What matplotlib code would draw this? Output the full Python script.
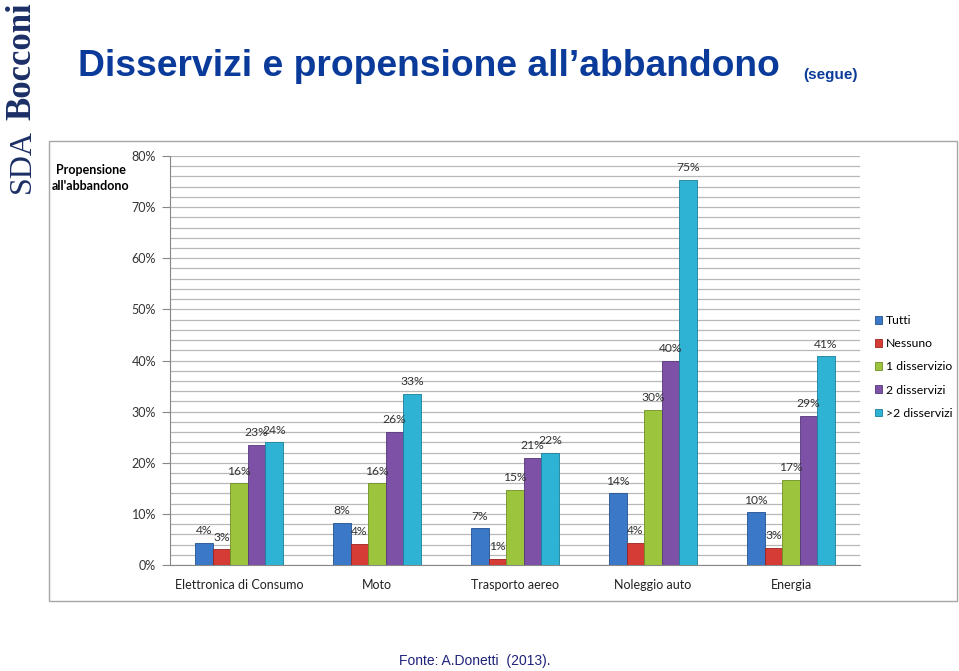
import matplotlib.pyplot as plt
import matplotlib.patches as mpatches
from matplotlib.ticker import MultipleLocator, FuncFormatter
import numpy as np

# ── data ────────────────────────────────────────────────────
categories = ['Elettronica di Consumo', 'Moto', 'Trasporto aereo',
              'Noleggio auto', 'Energia']
series = ['Tutti', 'Nessuno', '1 disservizio', '2 disservizi', '>2 disservizi']
tutti      = [4.3, 8.3, 7.2, 14.0, 10.3]
nessuno    = [3.1, 4.2, 1.2, 4.4, 3.3]
uno        = [16.0, 16.0, 14.7, 30.3, 16.7]
due        = [23.5, 26.0, 21.0, 40.0, 29.2]
oltre_due  = [24.0, 33.5, 22.0, 75.3, 40.8]
labels = [
    ['4%', '8%', '7%', '14%', '10%'],
    ['3%', '4%', '1%', '4%', '3%'],
    ['16%', '16%', '15%', '30%', '17%'],
    ['23%', '26%', '21%', '40%', '29%'],
    ['24%', '33%', '22%', '75%', '41%'],
]

COLORS = ['#3b78c8', '#d63c36', '#9cc43c', '#7d52a6', '#2fb3d4']
EDGES  = ['#22508f', '#9c2320', '#6e8f22', '#55357a', '#1a7f9a']
NAVY   = '#0a3a9a'
CHART_FONT = ['Lato', 'DejaVu Sans']

W, H = 959, 671
fig = plt.figure(figsize=(W/100, H/100), dpi=100, facecolor='white')

# ── chart frame ─────────────────────────────────────────────
fig.add_artist(mpatches.Rectangle((49/W, 1-601/H), (957-49)/W, (601-141)/H,
                                  transform=fig.transFigure, fill=False,
                                  edgecolor='#a6a6a6', linewidth=1.0))

ax = fig.add_axes([170/W, 1-565/H, (860-170)/W, (565-156)/H])
vals = [tutti, nessuno, uno, due, oltre_due]
x = np.arange(len(categories))
bw = 0.127
for i, (v, c, e) in enumerate(zip(vals, COLORS, EDGES)):
    pos = x + (i-2)*bw
    ax.bar(pos, v, width=bw, color=c, edgecolor=e, linewidth=0.6,
           label=series[i], zorder=3)
    for xp, yv, lab in zip(pos, v, labels[i]):
        ax.text(xp, yv + 1.3, lab, ha='center', va='bottom', fontsize=8.7,
                color='#333333', family=CHART_FONT, zorder=4)

ax.set_xlim(-0.5, len(categories)-0.5)
ax.set_ylim(0, 80)
ax.yaxis.set_major_locator(MultipleLocator(10))
ax.yaxis.set_minor_locator(MultipleLocator(2))
ax.yaxis.set_major_formatter(FuncFormatter(lambda v, p: f'{int(v)}%'))
ax.grid(axis='y', which='both', color='#b8b8b8', linewidth=0.9, zorder=0)
ax.set_xticks(x)
ax.set_xticklabels(categories, family=CHART_FONT, fontsize=9, color='#222222')
ax.tick_params(axis='x', length=0, pad=10)
ax.tick_params(axis='y', which='major', length=6, color='#888888',
               labelsize=9, labelcolor='#333333', pad=4)
ax.tick_params(axis='y', which='minor', length=0)
for lab in ax.get_yticklabels():
    lab.set_family(CHART_FONT)
for s in ['top', 'right']:
    ax.spines[s].set_visible(False)
ax.spines['left'].set_color('#888888')
ax.spines['bottom'].set_color('#888888')

fig.text(91/W, 1-178/H, "Propensione\nall'abbandono", ha='center', va='center',
         fontsize=9, fontweight='bold', family=CHART_FONT, linespacing=1.45)

ax.legend(loc='upper left', bbox_to_anchor=(864/W, 1-304/H),
          bbox_transform=fig.transFigure, frameon=False,
          handlelength=0.6, handleheight=0.6, handletextpad=0.3,
          labelspacing=1.0, prop={'family': CHART_FONT, 'size': 8.8})

# ── title ───────────────────────────────────────────────────
TITLE_FONT = ['Liberation Sans', 'DejaVu Sans']
fig.text(78/W, 1-67/H, 'Disservizi e propensione all\u2019abbandono',
         ha='left', va='center', fontsize=26.8, fontweight='bold',
         color=NAVY, family=TITLE_FONT)
fig.text(803/W, 1-75/H, '(segue)', ha='left', va='center', fontsize=11,
         fontweight='bold', color=NAVY, family=TITLE_FONT)

# ── logo ────────────────────────────────────────────────────
SERIF = ['Liberation Serif', 'DejaVu Serif']
fig.text(22/W, 1-193/H, 'SDA', rotation=90, ha='center', va='bottom',
         fontsize=23, color='#1b2f66', family=SERIF)
fig.text(22/W, 1-2/H, 'Bocconi', rotation=90, ha='center', va='top',
         fontsize=25, fontweight='bold', color='#1b2f66', family=SERIF)

fig.text(475/W, 1-661/H, 'Fonte: A.Donetti  (2013).', ha='center', va='center',
         fontsize=10, color='#1f237a', family=['Liberation Sans', 'DejaVu Sans'])

fig.savefig('out.png', dpi=100, facecolor='white')
